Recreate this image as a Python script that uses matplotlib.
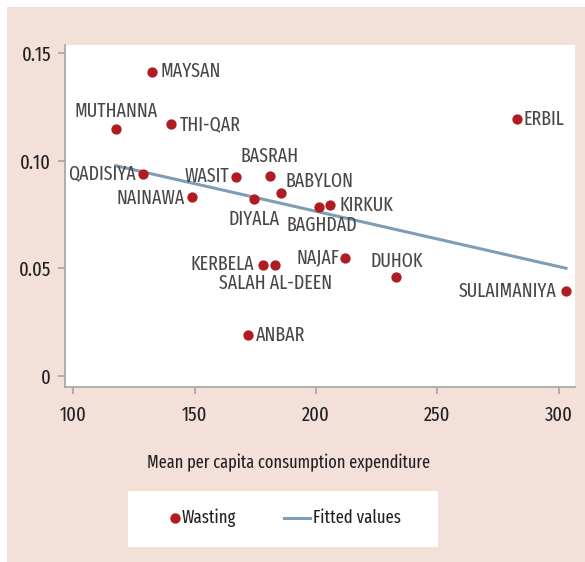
import matplotlib.pyplot as plt
import numpy as np
from matplotlib import font_manager
from matplotlib.patches import Rectangle
from matplotlib.lines import Line2D

# governorates: mean per capita consumption expenditure vs wasting
names = ['MAYSAN', 'MUTHANNA', 'THI-QAR', 'QADISIYA', 'WASIT', 'BASRAH',
         'BABYLON', 'NAINAWA', 'DIYALA', 'BAGHDAD', 'KIRKUK', 'KERBELA',
         'SALAH AL-DEEN', 'ANBAR', 'NAJAF', 'DUHOK', 'SULAIMANIYA', 'ERBIL']
expenditure = [132.6, 117.5, 140.4, 128.9, 167.1, 181.1,
               185.5, 149.1, 174.5, 201.4, 205.8, 178.3,
               183.3, 172.1, 212.0, 233.1, 303.1, 282.8]
wasting = [0.1415, 0.1147, 0.1172, 0.0941, 0.0927, 0.0932,
           0.0853, 0.0834, 0.0823, 0.0785, 0.0794, 0.0518,
           0.0518, 0.0189, 0.0549, 0.0462, 0.0395, 0.1195]

# fitted regression line, read at its two ends
fit_x = [117.5, 303.1]
fit_y = [0.0978, 0.0501]

xticks = [100, 150, 200, 250, 300]
yticks = [0, 0.05, 0.10, 0.15]
ytick_labels = ['0', '0.05', '0.10', '0.15']

# label placement: (dx, dy) in pixels, ha
label_pos = {
    'MAYSAN': (8, 0, 'left'),
    'MUTHANNA': (0, 18, 'center'),
    'THI-QAR': (9, 0, 'left'),
    'QADISIYA': (-7, 0, 'right'),
    'WASIT': (-7, 0, 'right'),
    'BASRAH': (0, 19, 'center'),
    'BABYLON': (5, 11, 'left'),
    'NAINAWA': (-8, -2, 'right'),
    'DIYALA': (0, -20, 'center'),
    'BAGHDAD': (3, -18, 'center'),
    'KIRKUK': (10, 0, 'left'),
    'KERBELA': (-9, 0, 'right'),
    'SALAH AL-DEEN': (0, -19, 'center'),
    'ANBAR': (8, 0, 'left'),
    'NAJAF': (-6, 1, 'right'),
    'DUHOK': (1, 15, 'center'),
    'SULAIMANIYA': (-9, 0, 'right'),
    'ERBIL': (7, 0, 'left'),
}

pink = '#f3e1d9'
red = '#b01c22'
blue = '#7f9db5'
grey = '#a3a3a3'
dark = '#231f20'

# pick a condensed face if one is around
have = {f.name for f in font_manager.fontManager.ttflist}
wanted = ['Fira Sans Extra Condensed', 'PT Sans Narrow', 'Fira Sans Condensed',
          'Roboto Condensed', 'Open Sans Condensed', 'Liberation Sans Narrow']
cond = [f for f in wanted if f in have][:1]
plt.rcParams['font.family'] = cond + ['DejaVu Sans']

W, H = 585, 562
fig = plt.figure(figsize=(W / 100, H / 100), dpi=100)
fig.patch.set_facecolor('white')
fig.patches.append(Rectangle((7 / W, 0), 1, 1 - 7 / H, transform=fig.transFigure,
                             facecolor=pink, edgecolor='none', zorder=-10))

ax = fig.add_axes([65 / W, 175 / H, 510 / W, 342 / H])
ax.set_facecolor('white')
ax.plot(fit_x, fit_y, color=blue, lw=2.2, zorder=2)
ax.scatter(expenditure, wasting, s=55, color=red, zorder=3, linewidths=0)

for n, x, y in zip(names, expenditure, wasting):
    dx, dy, ha = label_pos[n]
    ax.annotate(n, (x, y), xytext=(dx, dy), textcoords='offset pixels',
                ha=ha, va='center', fontsize=14, color='#474747')

ax.set_xlim(96.6, 306.8)
ax.set_ylim(-0.0051, 0.1539)
ax.set_xticks(xticks)
ax.set_yticks(yticks)
ax.set_yticklabels(ytick_labels)
for s in ['top', 'right']:
    ax.spines[s].set_visible(False)
for s in ['left', 'bottom']:
    ax.spines[s].set_color(grey)
    ax.spines[s].set_linewidth(1.2)
ax.tick_params(colors=grey, length=5, width=1.2, labelcolor=dark, labelsize=14.5)
ax.tick_params(axis='x', pad=8)
ax.tick_params(axis='y', pad=5)

fig.text(289 / W, 1 - 463 / H, 'Mean per capita consumption expenditure',
         ha='center', va='center', fontsize=12.8, color=dark)

# legend box, laid out by hand
fig.patches.append(Rectangle((128 / W, 1 - 547 / H), 310 / W, 56 / H,
                             transform=fig.transFigure, facecolor='white',
                             edgecolor='none', zorder=-5))
ly = 1 - 518 / H
fig.add_artist(Line2D([175 / W], [ly], ls='none', marker='o', ms=7.5,
                      color=red, mec='none', transform=fig.transFigure))
fig.text(182 / W, ly, 'Wasting', ha='left', va='center', fontsize=13, color=dark)
fig.add_artist(Line2D([284 / W, 310 / W], [ly, ly], color=blue, lw=2.2,
                      transform=fig.transFigure))
fig.text(313 / W, ly, 'Fitted values', ha='left', va='center', fontsize=13, color=dark)

fig.savefig('out.png', dpi=100, facecolor=fig.get_facecolor())
